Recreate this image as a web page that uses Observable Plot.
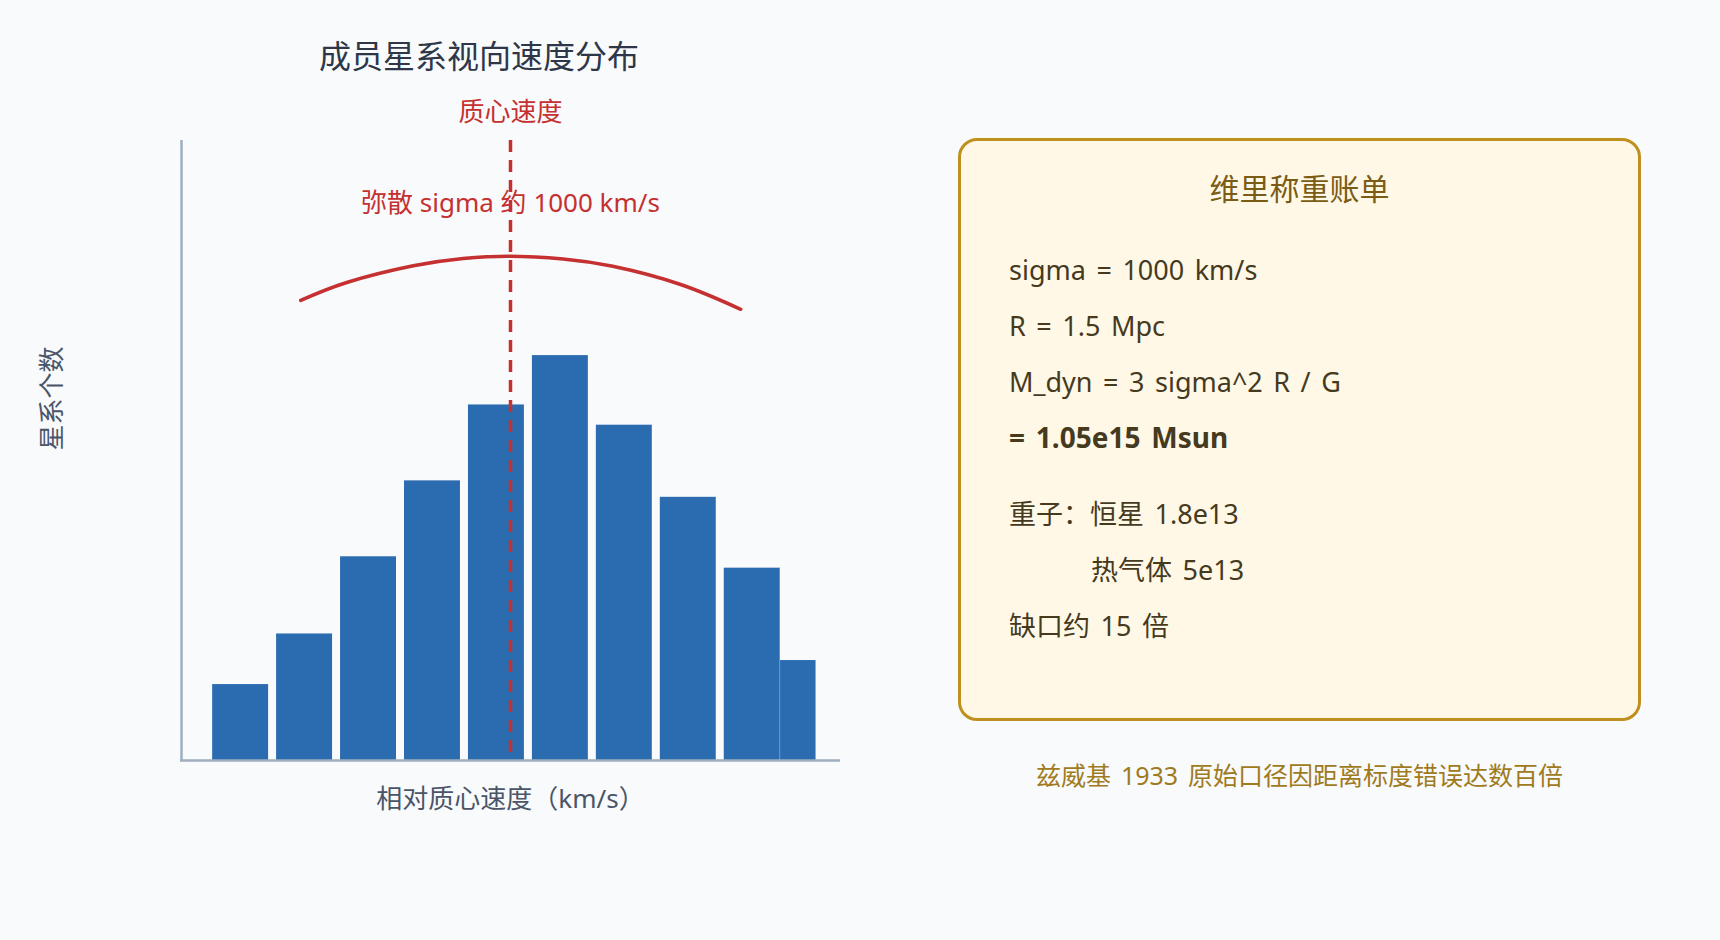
<!DOCTYPE html>
<html>
<head>
<meta charset="utf-8">
<script src="https://cdn.jsdelivr.net/npm/d3@7"></script>
<script src="https://cdn.jsdelivr.net/npm/@observablehq/plot@0.6"></script>
<style>
  html, body { margin: 0; padding: 0; background: #f8fafc; }
  body { width: 1720px; height: 940px; position: relative; overflow: hidden;
         font-family: "Noto Sans", "Noto Sans CJK SC", sans-serif; }
  #chart { position: absolute; left: 0; top: 0; }
  .t { position: absolute; white-space: nowrap; }
  #title { left: 0; width: 958px; top: 30px; line-height: 48px; text-align: center;
           font-size: 32px; color: #2d3748; font-family: "Noto Sans CJK SC", sans-serif; }
  #box { position: absolute; left: 958px; top: 138px; width: 683px; height: 583px;
         box-sizing: border-box; border: 3px solid #c0901e; border-radius: 19px;
         background: #fff8e7; }
  #boxTitle { left: 958px; width: 683px; top: 166px; line-height: 42px; text-align: center;
              font-size: 30px; color: #7a5c14; font-family: "Noto Sans CJK SC", sans-serif; }
  .line { left: 1009px; font-size: 27px; line-height: 40px; color: #453a1e; word-spacing: 3.5px; }
  #caption { left: 958px; width: 683px; top: 755px; line-height: 40px; text-align: center;
             font-size: 25px; color: #a07a20; word-spacing: 3.5px; }
</style>
</head>
<body>
<div id="title" class="t">成员星系视向速度分布</div>
<div id="chart"></div>
<div id="box"></div>
<div id="boxTitle" class="t">维里称重账单</div>
<div id="lines"></div>
<div id="caption" class="t">兹威基 1933 原始口径因距离标度错误达数百倍</div>
<script>
// ---- data ----
// histogram bins, relative velocity to cluster centre (km/s)
const binLo  = [-2360, -1860, -1360, -860, -360, 140, 640, 1140, 1640, 2080];
const binHi  = [-1860, -1360, -860, -360, 140, 640, 1140, 1640, 2140, 2420];
const counts = [3, 5, 8.05, 11.05, 14.05, 16, 13.25, 10.4, 7.6, 3.95];
// fitted dispersion curve (red arc)
const curveV = [-1640, -1280, -760, -370, 0, 410, 800, 1330, 1800];
const curveN = [18.18, 18.89, 19.55, 19.84, 19.93, 19.82, 19.53, 18.81, 17.83];
// centre-of-mass velocity
const centerV = [0];
const xDomain = [-2580, 2580];
const yDomain = [0, 24.5];
// text
const xLabel = "相对质心速度（km/s）";
const yLabel = "星系个数";
const centerLabel = "质心速度";
const sigmaLabel = "弥散 sigma 约 1000 km/s";
const billLines = [
  "sigma = 1000 km/s",
  "R = 1.5 Mpc",
  "M_dyn = 3 sigma^2 R / G",
  "= 1.05e15 Msun",
  "重子：恒星 1.8e13",
  "热气体 5e13",
  "缺口约 15 倍"
];
const billBold = [false, false, false, true, false, false, false];
const billIndent = [0, 0, 0, 0, 0, 82, 0];
const billCenterY = [271, 327, 383, 438, 514.5, 570.5, 626.5];

const bins = binLo.map((lo, i) => ({lo, hi: binHi[i], count: counts[i]}));
const curve = curveV.map((v, i) => ({v, n: curveN[i]}));

const red = "#c53030";
const axisGray = "#a0aec0";
const textGray = "#4a5568";

const chart = Plot.plot({
  width: 958,
  height: 940,
  marginLeft: 180,
  marginRight: 118,
  marginTop: 140,
  marginBottom: 180,
  style: {background: "transparent", fontFamily: "'Noto Sans', 'Noto Sans CJK SC', sans-serif", overflow: "visible"},
  x: {domain: xDomain, axis: null},
  y: {domain: yDomain, axis: null},
  marks: [
    Plot.rectY(bins, {x1: "lo", x2: "hi", y: "count", fill: "#2b6cb0", insetLeft: 4, insetRight: 4}),
    Plot.ruleY([0], {stroke: axisGray, strokeWidth: 2.5}),
    Plot.ruleX([xDomain[0]], {stroke: axisGray, strokeWidth: 2.5, dx: 1}),
    Plot.line(curve, {x: "v", y: "n", stroke: red, strokeWidth: 3.5, curve: "natural"}),
    Plot.ruleX(centerV, {stroke: red, strokeWidth: 3.5, strokeDasharray: "12,8"}),
    Plot.text(centerV, {x: d => d, text: () => centerLabel, frameAnchor: "top", dy: -28,
      fill: red, fontSize: 26, textAnchor: "middle", lineAnchor: "middle"}),
    Plot.text(centerV, {x: d => d, text: () => sigmaLabel, frameAnchor: "top", dy: 63,
      fill: red, fontSize: 26, textAnchor: "middle", lineAnchor: "middle"}),
    Plot.text([xLabel], {text: d => d, frameAnchor: "bottom", dy: 39,
      fill: textGray, fontSize: 26, textAnchor: "middle", lineAnchor: "middle"}),
    Plot.text([yLabel], {text: d => d, frameAnchor: "left", dx: -128, dy: -52, rotate: -90,
      fill: textGray, fontSize: 26, textAnchor: "middle", lineAnchor: "middle"})
  ]
});
document.getElementById("chart").appendChild(chart);

const holder = document.getElementById("lines");
billLines.forEach((s, i) => {
  const d = document.createElement("div");
  d.className = "t line";
  d.textContent = s;
  d.style.top = (billCenterY[i] - 21) + "px";
  if (billBold[i]) { d.style.fontWeight = "700"; d.style.fontSize = "28px"; }
  if (billIndent[i]) d.style.paddingLeft = billIndent[i] + "px";
  holder.appendChild(d);
});
</script>
</body>
</html>
